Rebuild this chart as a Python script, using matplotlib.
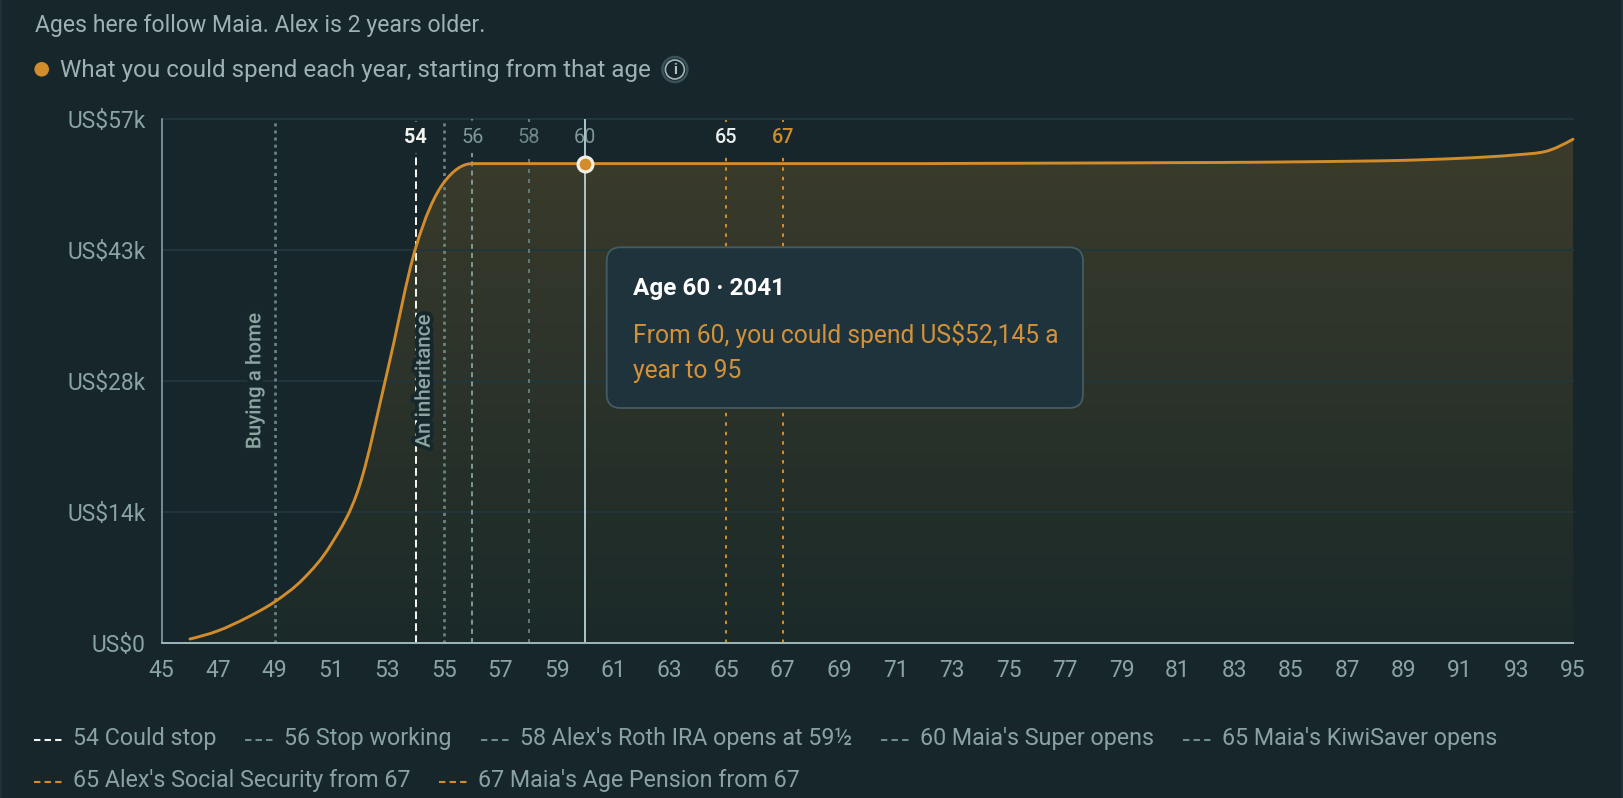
import numpy as np
import matplotlib
matplotlib.use("Agg")
import matplotlib.pyplot as plt
from matplotlib.path import Path
from matplotlib.patches import PathPatch, FancyBboxPatch, Circle
from matplotlib.lines import Line2D
from matplotlib.transforms import IdentityTransform, blended_transform_factory
from matplotlib.font_manager import FontProperties
from matplotlib.colors import LinearSegmentedColormap
import matplotlib.patheffects as pe

FAMILY = ["Roboto", "DejaVu Sans"]
plt.rcParams["font.family"] = FAMILY
plt.rcParams["lines.scale_dashes"] = False

# ---------------- data ----------------
ages = list(range(46, 96))
spend = [400, 1300, 2700, 4450, 6900, 10700, 17000, 29600, 43000, 50100,
         52145, 52145, 52145, 52145, 52145, 52145, 52145, 52145, 52145, 52145,
         52145, 52145, 52145, 52145, 52145, 52145, 52145, 52160, 52170, 52180,
         52190, 52200, 52210, 52220, 52235, 52250, 52260, 52280, 52300, 52330,
         52360, 52400, 52440, 52500, 52600, 52720, 52880, 53100, 53450, 54800]
xticks = list(range(45, 96, 2))
yticks = [0, 14250, 28500, 42750, 57000]
yticklabels = ["US$0", "US$14k", "US$28k", "US$43k", "US$57k"]
event_ages = [49, 55]
event_labels = ["Buying a home", "An inheritance"]
marker_ages = [54, 56, 58, 60, 65, 67]
legend_ages = [54, 56, 58, 60, 65, 65, 67]
legend_texts = ["Could stop", "Stop working", "Alex's Roth IRA opens at 59½",
                "Maia's Super opens", "Maia's KiwiSaver opens",
                "Alex's Social Security from 67", "Maia's Age Pension from 67"]
legend_kinds = ["white", "gray", "gray", "gray", "gray", "orange", "orange"]
hover_age, hover_year, hover_value, horizon = 60, 2041, 52145, 95
title_text = "Ages here follow Maia. Alex is 2 years older."
series_text = "What you could spend each year, starting from that age"

# ---------------- style ----------------
BG = "#16262b"
GRID = "#21353a"
TICK = "#8aa4a5"
TEXT = "#9db2b1"
LEG = "#8aa3a2"
ORANGE = "#d18c2c"
WHITE = "#f2f2ef"
GRAY_DASH = "#6f8d8a"
FILL_TOP = "#3c3c2b"
FILL_BOT = "#1b2a29"
TIP_BG = "#1e333b"
TIP_EDGE = "#445c63"

W, H, DPI = 1624, 798, 100
fig = plt.figure(figsize=(W / DPI, H / DPI), dpi=DPI, facecolor=BG)
renderer = fig.canvas.get_renderer()


def fx(x):
    return x / W


def fy(y):
    return 1 - y / H


def fp(size, weight="normal"):
    return FontProperties(family=FAMILY, size=size, weight=weight)


def text_w(s, size, weight="normal"):
    w, h, d = renderer.get_text_width_height_descent(s, fp(size, weight), ismath=False)
    return w


def fit(s, target, weight="normal", base=20.0):
    return base * target / text_w(s, base, weight)


s_series = fit(series_text, 590)
s_title = 0.5 * (s_series + fit(title_text, 427))
s_legend = fit("65 Alex's Social Security from 67", 337)
s_tick = fit("US$57k", 78)
s_tip = fit("From 60, you could spend US$52,145 a", 424)
s_tip_title = fit("Age 60 · 2041", 152, "bold")
s_event = fit("Buying a home", 136, "medium")
s_top = fit("54", 22.7, "bold")

# ---------------- axes ----------------
L, R, T, B = 161.7, 1573.0, 119.0, 642.7
ax = fig.add_axes([fx(L), fy(B), (R - L) / W, (B - T) / H])
ax.set_facecolor("none")
ax.set_xlim(45, 95)
ax.set_ylim(0, 57000)
for s in ["top", "right"]:
    ax.spines[s].set_visible(False)
ax.spines["left"].set_color("#8fa9ae")
ax.spines["left"].set_linewidth(1.1)
ax.spines["bottom"].set_color("#9ab3b6")
ax.spines["bottom"].set_linewidth(1.44)
ax.spines["left"].set_zorder(8)
ax.spines["bottom"].set_zorder(8)
ax.set_xticks(xticks)
ax.set_xticklabels([str(v) for v in xticks])
ax.set_yticks(yticks)
ax.set_yticklabels(yticklabels)
ax.tick_params(axis="both", length=0, colors=TICK, labelsize=s_tick)
ax.tick_params(axis="x", pad=11.5)
ax.tick_params(axis="y", pad=11.5)

for yv in yticks[1:]:
    ax.axhline(yv, color=GRID, lw=1.44, zorder=2, clip_on=False)


# monotone cubic (d3 curveMonotoneX style) path through the yearly values
def monotone_path(xs, ys):
    xs = np.asarray(xs, float)
    ys = np.asarray(ys, float)
    n = len(xs)
    h = np.diff(xs)
    s = np.diff(ys) / h
    t = np.zeros(n)
    for i in range(1, n - 1):
        s0, s1 = s[i - 1], s[i]
        p = (s0 * h[i] + s1 * h[i - 1]) / (h[i - 1] + h[i])
        t[i] = (np.sign(s0) + np.sign(s1)) * min(abs(s0), abs(s1), 0.5 * abs(p))
    t[0] = (3 * s[0] - t[1]) / 2
    t[-1] = (3 * s[-1] - t[-2]) / 2
    verts = [(xs[0], ys[0])]
    codes = [Path.MOVETO]
    for i in range(n - 1):
        dx = (xs[i + 1] - xs[i]) / 3
        verts += [(xs[i] + dx, ys[i] + dx * t[i]),
                  (xs[i + 1] - dx, ys[i + 1] - dx * t[i + 1]),
                  (xs[i + 1], ys[i + 1])]
        codes += [Path.CURVE4] * 3
    return verts, codes


verts, codes = monotone_path(ages, spend)
line_path = Path(verts, codes)
fill_verts = verts + [(ages[-1], 0), (ages[0], 0), (ages[0], 0)]
fill_codes = codes + [Path.LINETO, Path.LINETO, Path.CLOSEPOLY]
fill_patch = PathPatch(Path(fill_verts, fill_codes), facecolor="none", edgecolor="none")
ax.add_patch(fill_patch)
cmap = LinearSegmentedColormap.from_list("g", [FILL_BOT, FILL_TOP])
grad = np.linspace(0, 1, 256).reshape(-1, 1)
im = ax.imshow(grad, extent=[45, 95, 0, 57000], origin="lower", aspect="auto",
               cmap=cmap, zorder=1, interpolation="bilinear")
im.set_clip_path(fill_patch)
ax.set_xlim(45, 95)
ax.set_ylim(0, 57000)

# event lines + rotated labels
bt = blended_transform_factory(ax.transData, ax.transAxes)
for a, lab in zip(event_ages, event_labels):
    ax.axvline(a, color="#6b8784", lw=1.9, dashes=(2.2, 2.9), zorder=3)
    ax.annotate(lab, xy=(a, 0.5), xycoords=bt, xytext=(-14.2, 0),
                textcoords="offset points", rotation=90, ha="center", va="center",
                color="#8ca5a1", fontproperties=fp(s_event, "medium"), zorder=6,
                path_effects=[pe.withStroke(linewidth=5.5, foreground="#17282d")])

# marker lines
marker_style = {
    54: dict(color=WHITE, lw=1.44, dashes=(5.6, 3.0)),
    56: dict(color="#7a9793", lw=1.44, dashes=(3.6, 3.0)),
    58: dict(color="#5f7a78", lw=1.44, dashes=(2.9, 4.3)),
    60: dict(color="#6f8d8a", lw=1.44, dashes=(3.6, 3.0)),
    65: dict(color=ORANGE, lw=1.44, dashes=(2.5, 4.3)),
    67: dict(color=ORANGE, lw=1.44, dashes=(2.5, 4.3)),
}
top_label_style = {
    54: (WHITE, "bold"),
    56: ("#7d9a95", "normal"),
    58: ("#6d8785", "normal"),
    60: ("#7f9896", "normal"),
    65: ("#e9efee", "medium"),
    67: (ORANGE, "medium"),
}
for a in marker_ages:
    ax.axvline(a, zorder=3, **marker_style[a])
    c, wgt = top_label_style[a]
    ax.text(a, 0.965, str(a), transform=bt, ha="center", va="center", color=c,
            fontproperties=fp(s_top, wgt), zorder=4,
            bbox=dict(boxstyle="square,pad=0.3", fc=BG, ec="none"))

# curve
ax.add_patch(PathPatch(line_path, facecolor="none", edgecolor=ORANGE, lw=2.1,
                       zorder=5, capstyle="round", joinstyle="round", clip_on=False))

# hover crosshair + dot
ax.axvline(hover_age, color="#a8c2c6", lw=1.44, zorder=6)
ax.plot([hover_age], [hover_value], "o", ms=10.7, mew=2.3, mfc=ORANGE,
        mec="#f3efe6", zorder=7, clip_on=False)

# ---------------- header ----------------
fig.text(fx(35), fy(31.7), title_text, va="baseline", ha="left", color=TEXT,
         fontproperties=fp(s_title))
fig.add_artist(Circle((41.7, H - 69.3), 7.3, transform=IdentityTransform(),
                      fc=ORANGE, ec="none"))
fig.text(fx(60), fy(77.3), series_text, va="baseline", ha="left", color=TEXT,
         fontproperties=fp(s_series))
icx = 60 + text_w(series_text, s_series) + 24
fig.add_artist(Circle((icx, H - 69.5), 12.5, transform=IdentityTransform(),
                      fc="none", ec="#3b5258", lw=1.8))
fig.add_artist(Circle((icx, H - 69.5), 9.5, transform=IdentityTransform(),
                      fc="none", ec="#a3b6b6", lw=1.2))
fig.text(fx(icx), fy(69.5), "i", ha="center", va="center", color="#b0c2c2",
         fontproperties=fp(s_series * 0.62, "bold"))

# ---------------- tooltip ----------------
tx0, ty0, tx1, ty1 = 606.7, 247.3, 1083.0, 408.0
fig.add_artist(FancyBboxPatch((tx0, H - ty1), tx1 - tx0, ty1 - ty0,
                              boxstyle="round,pad=0,rounding_size=14",
                              transform=IdentityTransform(), fc=TIP_BG,
                              ec=TIP_EDGE, lw=1.3, zorder=10))
fig.text(fx(632.7), fy(295), f"Age {hover_age} · {hover_year}", va="baseline",
         ha="left", color="#ffffff", fontproperties=fp(s_tip_title, "bold"), zorder=11)
fig.text(fx(632.7), fy(343.3), f"From {hover_age}, you could spend US${hover_value:,} a",
         va="baseline", ha="left", color="#d3913a", fontproperties=fp(s_tip), zorder=11)
fig.text(fx(632.7), fy(378.3), f"year to {horizon}", va="baseline", ha="left",
         color="#d3913a", fontproperties=fp(s_tip), zorder=11)

# ---------------- legend ----------------
dash_col = {"white": WHITE, "gray": GRAY_DASH, "orange": ORANGE}
x = 34.0
row_base = [745.0, 787.3]
row = 0
for a, t, k in zip(legend_ages, legend_texts, legend_kinds):
    lab = f"{a} {t}"
    wlab = text_w(lab, s_legend)
    if x + 39 + wlab > W - 40:
        row += 1
        x = 34.0
    yb = row_base[row]
    fig.add_artist(Line2D([fx(x), fx(x + 28)], [fy(yb - 5.5), fy(yb - 5.5)],
                          transform=fig.transFigure, color=dash_col[k], lw=1.5,
                          dashes=(4.6, 3.0)))
    fig.text(fx(x + 39), fy(yb), lab, va="baseline", ha="left", color=LEG,
             fontproperties=fp(s_legend))
    x = x + 39 + wlab + 29

# subtle card edges
fig.add_artist(Line2D([fx(1), fx(1)], [0, 1], transform=fig.transFigure, color="#1e3136", lw=1.5))
fig.add_artist(Line2D([fx(1622), fx(1622)], [0, 1], transform=fig.transFigure, color="#1e3136", lw=1.5))

fig.savefig("out.png", dpi=DPI, facecolor=BG)
